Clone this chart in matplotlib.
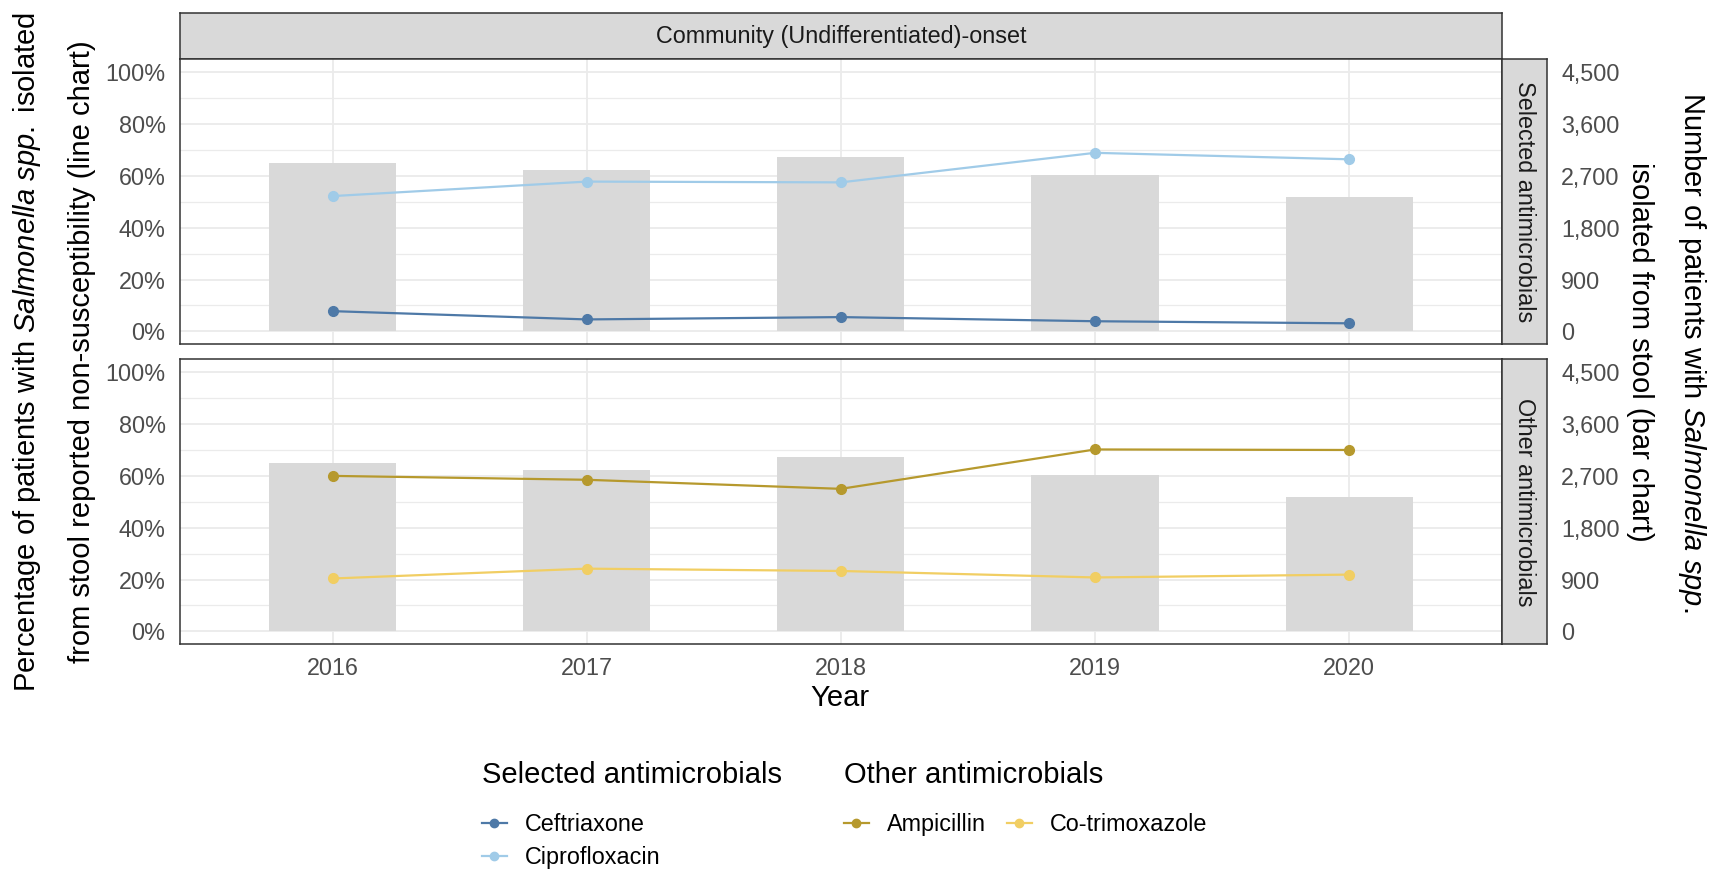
import matplotlib.pyplot as plt
from matplotlib.lines import Line2D
from matplotlib.ticker import FuncFormatter, MultipleLocator

plt.rcParams['font.family'] = ['Liberation Sans', 'DejaVu Sans']
plt.rcParams['mathtext.fontset'] = 'custom'
plt.rcParams['mathtext.rm'] = 'Liberation Sans'
plt.rcParams['mathtext.it'] = 'Liberation Sans:italic'

# data
years = [2016, 2017, 2018, 2019, 2020]
patients = [2916, 2794, 3023, 2724, 2325]          # bar chart, count
ceftriaxone = [7.8, 4.6, 5.5, 3.9, 3.1]            # % non-susceptible
ciprofloxacin = [52.2, 57.8, 57.5, 68.9, 66.4]
ampicillin = [60.0, 58.5, 55.0, 70.2, 70.0]
cotrimoxazole = [20.4, 24.2, 23.3, 20.8, 21.9]

panels = ["Selected antimicrobials", "Other antimicrobials"]
series = {
    "Selected antimicrobials": [("Ceftriaxone", ceftriaxone, "#4E79A7"),
                                ("Ciprofloxacin", ciprofloxacin, "#A0CBE8")],
    "Other antimicrobials": [("Ampicillin", ampicillin, "#B6992D"),
                             ("Co-trimoxazole", cotrimoxazole, "#F1CE63")],
}
strip_title = "Community (Undifferentiated)-onset"

W, H = 1719, 869
TICK = 16.8
TITLE = 21
BORDER = "#333333"
GRID = "#EBEBEB"
STRIP = "#D9D9D9"

fig = plt.figure(figsize=(W / 100, H / 100), dpi=100)

def rect(left, top, right, bottom):
    return [left / W, 1 - bottom / H, (right - left) / W, (bottom - top) / H]

def strip_ax(r):
    s = fig.add_axes(r)
    s.set_facecolor(STRIP)
    s.set_xticks([]); s.set_yticks([])
    for sp in s.spines.values():
        sp.set_color(BORDER); sp.set_linewidth(1.1)
    return s

L, R = 180, 1501.7
tops = [59.3, 359.3]
ph = 285

# top strip
s = strip_ax(rect(L, 13.3, R, 59.3))
s.text(0.5, 0.5, strip_title, ha='center', va='center', fontsize=TICK, color='#1A1A1A', transform=s.transAxes)

for i, name in enumerate(panels):
    top = tops[i]
    ax_bar = fig.add_axes(rect(L, top, R, top + ph))
    ax = ax_bar.twinx()   # line chart (percent) drawn over the bars

    ax_bar.bar(years, patients, width=0.5, color=STRIP, zorder=2)
    ax_bar.set_ylim(-225, 4725)
    ax_bar.set_xlim(2015.4, 2020.6)
    ax_bar.yaxis.set_major_locator(MultipleLocator(900))
    ax_bar.yaxis.set_minor_locator(MultipleLocator(450))
    ax_bar.yaxis.set_major_formatter(FuncFormatter(lambda v, p: f"{int(v):,}"))
    ax_bar.set_xticks(years)
    ax_bar.grid(True, which='major', color=GRID, lw=1.3, zorder=0)
    ax_bar.grid(True, which='minor', axis='y', color=GRID, lw=0.9, zorder=0)
    ax_bar.set_axisbelow(True)
    ax_bar.yaxis.tick_right()
    ax_bar.tick_params(axis='y', which='both', length=0, labelsize=TICK, labelcolor='#4D4D4D',
                       pad=42.7, labelleft=False, labelright=True)
    ax_bar.tick_params(axis='x', length=0, labelbottom=False)
    for sp in ax_bar.spines.values():
        sp.set_visible(False)

    ax.yaxis.tick_left()
    ax.set_ylim(-5, 105)
    ax.set_yticks([0, 20, 40, 60, 80, 100])
    ax.set_yticklabels([f"{v}%" for v in [0, 20, 40, 60, 80, 100]])
    ax.tick_params(axis='y', length=0, labelsize=TICK, labelcolor='#4D4D4D', pad=10.4,
                   labelleft=True, labelright=False)
    for lab, vals, col in series[name]:
        ax.plot(years, vals, color=col, lw=1.6, marker='o', ms=7, zorder=3)
    for sp in ax.spines.values():
        sp.set_color(BORDER); sp.set_linewidth(1.1)
    if i == 1:
        ax_bar.tick_params(axis='x', labelbottom=True, labelsize=TICK, labelcolor='#4D4D4D', pad=9)
        ax_bar.set_xticklabels([str(y) for y in years])

    rs = strip_ax(rect(R, top, 1547, top + ph))
    rs.text(0.5, 0.5, name, rotation=270, ha='center', va='center', fontsize=TICK,
            color='#1A1A1A', transform=rs.transAxes)

# axis titles
yc = 1 - 352 / H
fig.text(27 / W, yc, r"Percentage of patients with $\it{Salmonella\ spp.}$ isolated",
         rotation=90, ha='center', va='center', fontsize=TITLE)
fig.text(82 / W, yc, "from stool reported non-susceptibility (line chart)",
         rotation=90, ha='center', va='center', fontsize=TITLE)
fig.text(1692 / W, yc, r"Number of patients with $\it{Salmonella\ spp.}$",
         rotation=270, ha='center', va='center', fontsize=TITLE)
fig.text(1640 / W, yc, "isolated from stool (bar chart)",
         rotation=270, ha='center', va='center', fontsize=TITLE)
fig.text(840 / W, 1 - 698 / H, "Year", ha='center', va='center', fontsize=TITLE)

# legends
def handles(name):
    return [Line2D([], [], color=c, lw=1.6, marker='o', ms=6) for _, _, c in series[name]]

fig.text(482 / W, 1 - 775 / H, "Selected antimicrobials", ha='left', va='center', fontsize=TITLE)
fig.text(844 / W, 1 - 775 / H, "Other antimicrobials", ha='left', va='center', fontsize=TITLE)
fig.legend(handles("Selected antimicrobials"), [s[0] for s in series["Selected antimicrobials"]],
           loc='upper left', bbox_to_anchor=(482 / W, 1 - 813 / H), frameon=False,
           fontsize=TICK, borderpad=0, borderaxespad=0, handlelength=1.05,
           handletextpad=0.8, labelspacing=0.42)
fig.legend(handles("Other antimicrobials"), [s[0] for s in series["Other antimicrobials"]],
           loc='upper left', bbox_to_anchor=(844 / W, 1 - 813 / H), frameon=False, ncol=2,
           fontsize=TICK, borderpad=0, borderaxespad=0, handlelength=1.05,
           handletextpad=0.8, labelspacing=0.42, columnspacing=0.9)

fig.savefig("out.png", dpi=100)
